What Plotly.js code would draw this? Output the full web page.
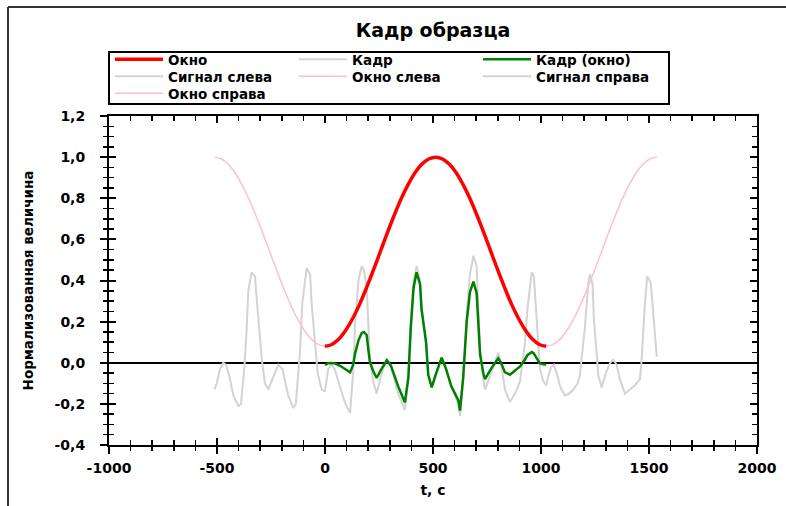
<!DOCTYPE html>
<html><head><meta charset="utf-8">
<script src="https://cdn.plot.ly/plotly-3.0.1.min.js"></script>
<style>html,body{margin:0;padding:0;background:#fff}#chart{width:786px;height:506px}</style>
</head><body><div id="chart"></div>
<script>
// ---- data ----
const tLeft = [-512,-501,-486,-471,-458,-444,-424,-401,-389,-373,-363,-355,-340,-324,-316,-305,-293,-278,-262,-240,-216,-197,-170,-147,-135,-116,-105,-85,-69,-62,-49,-34,-15,0];
const sigLeft = [-0.13,-0.10,-0.03,0.0,-0.01,-0.06,-0.16,-0.21,-0.20,-0.02,0.16,0.35,0.44,0.42,0.31,0.15,0.02,-0.10,-0.13,-0.07,-0.01,-0.03,-0.16,-0.22,-0.20,0.05,0.29,0.46,0.43,0.29,0.11,-0.05,-0.13,-0.14];

const tFrame = [0,15,30,45,70,95,116,130,140,155,170,180,193,200,208,223,239,260,286,305,339,370,386,397,410,424,440,447,468,478,494,515,540,560,585,617,625,640,656,671,687,702,710,718,733,741,770,802,815,833,856,880,903,926,937,957,967,977,988,995,1011,1024];
const sigFrame = [-0.14,-0.03,-0.01,-0.03,-0.12,-0.20,-0.245,-0.05,0.20,0.40,0.47,0.45,0.37,0.18,0.01,-0.09,-0.15,-0.06,0.02,-0.02,-0.15,-0.23,-0.08,0.19,0.40,0.47,0.40,0.27,0.10,-0.06,-0.12,-0.05,0.025,-0.03,-0.12,-0.20,-0.26,-0.08,0.24,0.43,0.52,0.47,0.28,0.06,-0.08,-0.13,-0.05,0.05,0.0,-0.13,-0.19,-0.15,-0.09,0.10,0.26,0.44,0.42,0.27,0.06,-0.03,-0.09,-0.11];
const frameWindowed = [-0.011,-0.002,-0.001,-0.003,-0.015,-0.031,-0.047,-0.011,0.048,0.109,0.145,0.150,0.135,0.069,0.004,-0.040,-0.074,-0.033,0.012,-0.014,-0.115,-0.193,-0.070,0.169,0.365,0.440,0.382,0.260,0.098,-0.059,-0.120,-0.050,0.025,-0.029,-0.115,-0.182,-0.233,-0.069,0.200,0.343,0.395,0.339,0.196,0.041,-0.051,-0.080,-0.027,0.022,0.000,-0.047,-0.058,-0.037,-0.018,0.016,0.037,0.052,0.045,0.027,0.005,-0.003,-0.007,-0.009];

const tRight = [1024,1040,1049,1060,1075,1090,1111,1130,1150,1170,1180,1188,1204,1219,1227,1239,1245,1258,1265,1281,1300,1320,1335,1350,1365,1389,1410,1435,1458,1466,1481,1492,1508,1520,1536];
const sigRight = [-0.11,-0.04,-0.02,-0.01,-0.06,-0.12,-0.16,-0.15,-0.13,-0.10,-0.06,0.015,0.18,0.39,0.43,0.38,0.21,0.04,-0.06,-0.12,-0.05,0.0,0.015,-0.01,-0.08,-0.15,-0.13,-0.11,-0.08,0.015,0.29,0.42,0.39,0.24,0.03];

const tWin = [0,32,64,96,128,160,192,224,256,288,320,352,384,416,448,480,512,544,576,608,640,672,704,736,768,800,832,864,896,928,960,992,1024];
const win = [0.08,0.089,0.115,0.158,0.215,0.284,0.364,0.450,0.54,0.630,0.716,0.796,0.865,0.923,0.965,0.991,1.0,0.991,0.965,0.923,0.865,0.796,0.716,0.630,0.54,0.450,0.364,0.284,0.215,0.158,0.115,0.089,0.08];
const tWinLeft = [-512,-480,-448,-416,-384,-352,-320,-288,-256,-224,-192,-160,-128,-96,-64,-32,0];
const winLeft = [1.0,0.991,0.965,0.923,0.865,0.796,0.716,0.630,0.54,0.450,0.364,0.284,0.215,0.158,0.115,0.089,0.08];
const tWinRight = [1024,1056,1088,1120,1152,1184,1216,1248,1280,1312,1344,1376,1408,1440,1472,1504,1536];
const winRight = [0.08,0.089,0.115,0.158,0.215,0.284,0.364,0.450,0.54,0.630,0.716,0.796,0.865,0.923,0.965,0.991,1.0];

const xTickVals = [-1000,-500,0,500,1000,1500,2000];
const xTickText = ['-1000','-500','0','500','1000','1500','2000'];
const yTickVals = [-0.4,-0.2,0,0.2,0.4,0.6,0.8,1.0,1.2];
const yTickText = ['-0,4','-0,2','0,0','0,2','0,4','0,6','0,8','1,0','1,2'];

const names = {win:'Окно', frame:'Кадр', frameWin:'Кадр (окно)', sigL:'Сигнал слева', winL:'Окно слева', sigR:'Сигнал справа', winR:'Окно справа'};

// ---- styles ----
const GRAY = '#d3d3d3', PINK = '#ffc0cb';
const FONT = '"DejaVu Sans", Verdana, sans-serif';

const traces = [
  {x:tLeft, y:sigLeft, name:names.sigL, legend:'legend2', legendrank:1, mode:'lines', line:{color:GRAY, width:2}},
  {x:tRight, y:sigRight, name:names.sigR, legend:'legend2', legendrank:3, mode:'lines', line:{color:GRAY, width:2}},
  {x:tFrame, y:sigFrame, name:names.frame, legend:'legend', legendrank:2, mode:'lines', line:{color:GRAY, width:2}},
  {x:tWinLeft, y:winLeft, name:names.winL, legend:'legend2', legendrank:2, mode:'lines', line:{color:PINK, width:1.5, shape:'spline'}},
  {x:tWinRight, y:winRight, name:names.winR, legend:'legend3', legendrank:1, mode:'lines', line:{color:PINK, width:1.5, shape:'spline'}},
  {x:tWin, y:win, name:names.win, legend:'legend', legendrank:1, mode:'lines', line:{color:'#ff0000', width:3.5, shape:'spline'}},
  {x:tFrame, y:frameWindowed, name:names.frameWin, legend:'legend', legendrank:3, mode:'lines', line:{color:'#008000', width:2.5}},
  {x:[], y:[], xaxis:'x2', yaxis:'y2', showlegend:false, hoverinfo:'skip', mode:'lines'}
];
traces.forEach(t => { if (!t.type) t.type = 'scatter'; });

// plot area: x 109..757 px, y 116..445 px
const PX = px => (px - 109) / 648;
const PY = py => (445 - py) / 329;

function legendAt(rowTopPx) {
  return {orientation:'h', x:PX(110), xanchor:'left', y:PY(rowTopPx), yanchor:'top',
          borderwidth:0, bgcolor:'rgba(0,0,0,0)',
          font:{family:FONT, size:13.5, color:'#000', weight:'bold'},
          entrywidth:121, entrywidthmode:'pixels', itemwidth:48, traceorder:'normal'};
}

const axisCommon = {showgrid:false, zeroline:false, fixedrange:true};
const layout = {
  width:786, height:506,
  margin:{l:109, r:29, t:116, b:61, pad:0},
  paper_bgcolor:'#ffffff', plot_bgcolor:'#ffffff',
  title:{text:'Кадр образца', font:{family:FONT, size:19, color:'#000', weight:'bold'},
         x:0.5, xref:'paper', xanchor:'center', y:1-30/506, yref:'container', yanchor:'middle'},
  showlegend:true,
  legend:legendAt(44),
  legend2:legendAt(61),
  legend3:legendAt(78),
  xaxis:Object.assign({}, axisCommon, {
    range:[-1000,2000], tickmode:'array', tickvals:xTickVals, ticktext:xTickText,
    ticks:'outside', ticklen:7, tickwidth:2, tickcolor:'#000', ticklabelstandoff:2,
    showline:true, linecolor:'#000', linewidth:2, mirror:true,
    minor:{tickmode:'linear', tick0:0, dtick:100, ticks:'outside', ticklen:4, tickwidth:1.5, tickcolor:'#000', showgrid:false},
    tickfont:{family:FONT, size:14, color:'#000', weight:'bold'},
    title:{text:'t, с', font:{family:FONT, size:14, color:'#000', weight:'bold'}, standoff:10}
  }),
  yaxis:Object.assign({}, axisCommon, {
    range:[-0.4,1.2], tickmode:'array', tickvals:yTickVals, ticktext:yTickText,
    ticks:'outside', ticklen:7, tickwidth:2, tickcolor:'#000', ticklabelstandoff:12,
    showline:true, linecolor:'#000', linewidth:2, mirror:true,
    zeroline:true, zerolinecolor:'#000', zerolinewidth:1.5,
    minor:{tickmode:'linear', tick0:0, dtick:0.05, ticks:'outside', ticklen:4, tickwidth:1.5, tickcolor:'#000', showgrid:false},
    tickfont:{family:FONT, size:14, color:'#000', weight:'bold'},
    title:{text:'Нормализованная величина', font:{family:FONT, size:13.5, color:'#000', weight:'bold'}, standoff:18}
  }),
  xaxis2:Object.assign({}, axisCommon, {
    overlaying:'x', anchor:'y2', side:'bottom', range:[-1000,2000],
    tickmode:'linear', tick0:0, dtick:500, ticks:'inside', ticklen:7, tickwidth:2, tickcolor:'#000',
    showticklabels:false, showline:true, linecolor:'#000', linewidth:2, mirror:'ticks',
    minor:{tickmode:'linear', tick0:0, dtick:100, ticks:'inside', ticklen:5, tickwidth:1.5, tickcolor:'#000', showgrid:false}
  }),
  yaxis2:Object.assign({}, axisCommon, {
    overlaying:'y', anchor:'x2', side:'left', range:[-0.4,1.2],
    tickmode:'linear', tick0:0, dtick:0.2, ticks:'inside', ticklen:7, tickwidth:2, tickcolor:'#000',
    showticklabels:false, showline:true, linecolor:'#000', linewidth:2, mirror:'ticks',
    minor:{tickmode:'linear', tick0:0, dtick:0.05, ticks:'inside', ticklen:5, tickwidth:1.5, tickcolor:'#000', showgrid:false}
  }),
  shapes:[
    {type:'line', xref:'paper', yref:'paper', x0:PX(8), x1:PX(800), y0:PY(7), y1:PY(7), line:{color:'#333', width:2}},
    {type:'line', xref:'paper', yref:'paper', x0:PX(8), x1:PX(8), y0:PY(7), y1:PY(520), line:{color:'#333', width:2}},
    {type:'rect', xref:'paper', yref:'paper', x0:PX(109), x1:PX(669), y0:PY(104), y1:PY(52), line:{color:'#000', width:2}, fillcolor:'rgba(0,0,0,0)'}
  ]
};

Plotly.newPlot('chart', traces, layout, {displayModeBar:false, staticPlot:true});
</script></body></html>
